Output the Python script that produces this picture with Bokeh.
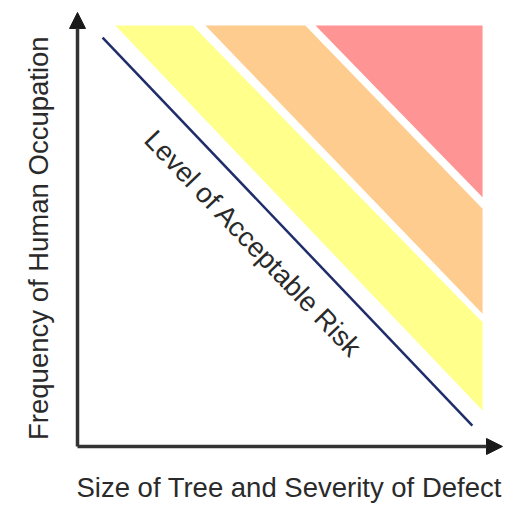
from bokeh.plotting import figure
from bokeh.models import Range1d, Arrow, NormalHead, ColumnDataSource
from bokeh.core.properties import value
from bokeh.embed import file_html
from bokeh.resources import INLINE
import math

# ---- data (conceptual units: 0..10 on each axis) ----
band_names = ["Acceptable margin", "Elevated risk", "High risk"]
band_colors = ["#FFFF8C", "#FFCC8F", "#FF9494"]
band_top_y = 9.70          # upper edge of the coloured zone
band_right_x = 9.53        # right edge of the coloured zone
band_top_left = [0.89, 3.01, 5.60]
band_top_right = [2.71, 5.36, 9.53]
band_right_low = [0.83, 3.06, 5.74]
band_right_high = [2.86, 5.48, 9.70]

risk_line_x = [0.59, 9.29]
risk_line_y = [9.42, 0.48]

axis_max_x = 10.0
axis_max_y = 10.0

x_label = "Size of Tree and Severity of Defect"
y_label = "Frequency of Human Occupation"
line_label = "Level of Acceptable Risk"

FONT = "Liberation Sans"
TEXT_COLOR = "#2a2a2a"
FS = "27.5px"

W, H = 531, 508
X0, X1 = -1.812, 10.682
Y0, Y1 = -1.429, 10.276

p = figure(width=W, height=H, output_backend="svg", toolbar_location=None,
           x_range=Range1d(X0, X1), y_range=Range1d(Y0, Y1),
           min_border=0, background_fill_color="white", border_fill_color="white")
p.axis.visible = False
p.grid.visible = False
p.outline_line_color = None

xs, ys = [], []
for tl, tr, rl, rh in zip(band_top_left, band_top_right, band_right_low, band_right_high):
    xs.append([tl, tr, band_right_x, band_right_x])
    ys.append([band_top_y, band_top_y, rh, rl])
src = ColumnDataSource(dict(xs=xs, ys=ys, color=band_colors, name=band_names))
p.patches("xs", "ys", source=src, fill_color="color", line_color=None)

p.line(risk_line_x, risk_line_y, line_color="#1F2D6B", line_width=2.5)

# axes with arrowheads
p.add_layout(Arrow(end=NormalHead(size=16, fill_color="#1a1a1a", line_color="#1a1a1a"),
                   x_start=0, y_start=0, x_end=0, y_end=axis_max_y,
                   line_color="#333333", line_width=3.5))
p.add_layout(Arrow(end=NormalHead(size=16, fill_color="#1a1a1a", line_color="#1a1a1a"),
                   x_start=0, y_start=0, x_end=axis_max_x, y_end=0,
                   line_color="#333333", line_width=3.5))

# angle of the risk line in screen space
px_per_x = W / (X1 - X0)
px_per_y = H / (Y1 - Y0)
dx = (risk_line_x[1] - risk_line_x[0]) * px_per_x
dy = (risk_line_y[1] - risk_line_y[0]) * px_per_y
ang = math.atan2(dy, dx)

p.text(x=[4.14], y=[4.67], text=[line_label], angle=ang,
       text_font=value(FONT), text_font_size=FS, text_color=TEXT_COLOR,
       text_align="center", text_baseline="alphabetic")
p.text(x=[-0.92], y=[4.80], text=[y_label], angle=math.pi / 2,
       text_font=value(FONT), text_font_size=FS, text_color=TEXT_COLOR,
       text_align="center", text_baseline="alphabetic")
p.text(x=[4.98], y=[-0.94], text=[x_label],
       text_font=value(FONT), text_font_size=FS, text_color=TEXT_COLOR,
       text_align="center", text_baseline="alphabetic")

open("out.html", "w").write(file_html(p, INLINE))
